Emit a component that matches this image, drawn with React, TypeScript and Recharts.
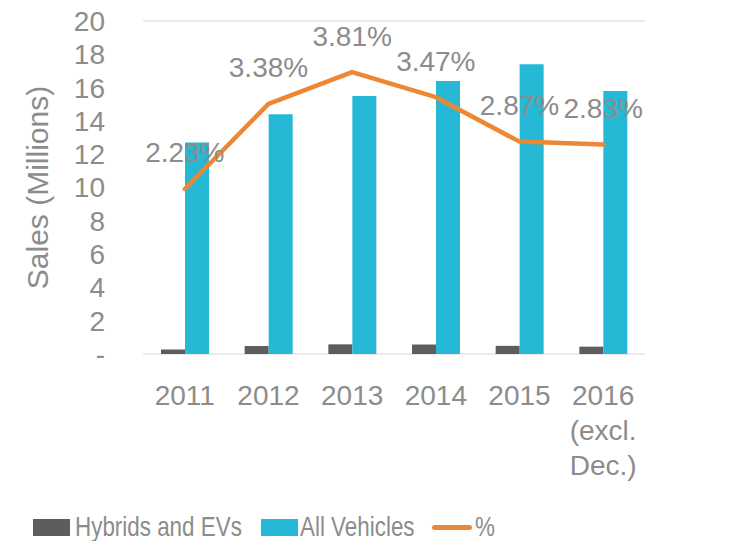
import {
  Bar,
  CartesianGrid,
  ComposedChart,
  LabelList,
  Legend,
  Line,
  XAxis,
  YAxis
} from "recharts";

const years = ["2011", "2012", "2013", "2014", "2015", "2016 (excl. Dec.)"];
const hybridsAndEVs = [0.27, 0.48, 0.58, 0.57, 0.49, 0.44];
const allVehicles = [12.7, 14.4, 15.5, 16.4, 17.4, 15.8];
const sharePct = [2.23, 3.38, 3.81, 3.47, 2.87, 2.83];
const salesTicks = [0, 2, 4, 6, 8, 10, 12, 14, 16, 18, 20];

const TEXT = "#8c8c8c";
const GRAY_BAR = "#5d5d5f";
const CYAN = "#26b9d6";
const ORANGE = "#ee8733";
const FONT = "'Liberation Sans', Arial, sans-serif";

const data = years.map((year, i) => ({
  year,
  hybrids: hybridsAndEVs[i],
  all: allVehicles[i],
  pct: sharePct[i]
}));

function YearTick({ x, y, payload }: any) {
  const lines = String(payload.value).split(" ");
  return (
    <text x={x} y={y + 51} textAnchor="middle" fill={TEXT} fontSize={28} fontFamily={FONT}>
      {lines.map((ln, i) => (
        <tspan key={i} x={x} dy={i === 0 ? 0 : 35}>
          {ln}
        </tspan>
      ))}
    </text>
  );
}

function PctLabel({ x, y, value }: any) {
  return (
    <text
      x={x}
      y={y - 36}
      textAnchor="middle"
      dominantBaseline="central"
      fill={TEXT}
      fontSize={28}
      fontFamily={FONT}
    >
      {`${Number(value).toFixed(2)}%`}
    </text>
  );
}

function SalesLabel({ viewBox }: any) {
  const cy = viewBox.y + viewBox.height / 2;
  return (
    <text
      x={37}
      y={cy}
      transform={`rotate(-90 37 ${cy})`}
      textAnchor="middle"
      dominantBaseline="central"
      fill={TEXT}
      fontSize={30}
      fontFamily={FONT}
    >
      Sales (Millions)
    </text>
  );
}

// legend text in the original is horizontally squeezed
function LegendBox() {
  const txt: any = {
    fontFamily: FONT,
    fontSize: 28,
    color: TEXT,
    lineHeight: "28px",
    whiteSpace: "nowrap",
    transform: "scaleX(0.8)",
    transformOrigin: "0 0"
  };
  return (
    <div style={{ position: "relative", height: 40, width: 736 }}>
      <div style={{ position: "absolute", left: 33, top: 18, width: 37, height: 17, background: GRAY_BAR }} />
      <div style={{ ...txt, position: "absolute", left: 75, top: 12 }}>Hybrids and EVs</div>
      <div style={{ position: "absolute", left: 261, top: 18, width: 37, height: 17, background: CYAN }} />
      <div style={{ ...txt, position: "absolute", left: 300, top: 12 }}>All Vehicles</div>
      <div
        style={{ position: "absolute", left: 432, top: 24, width: 40, height: 5, borderRadius: 3, background: ORANGE }}
      />
      <div style={{ ...txt, position: "absolute", left: 475, top: 12 }}>%</div>
    </div>
  );
}

export default function App() {
  return (
    <div style={{ position: "absolute", left: 0, top: 0, background: "#fff" }}>
      <ComposedChart
        width={736}
        height={541}
        data={data}
        barGap={0}
        margin={{ top: 21, right: 91, bottom: 0, left: 0 }}
      >
        <CartesianGrid vertical={false} stroke="#e3e3e3" strokeWidth={1.5} />
        <XAxis
          dataKey="year"
          axisLine={false}
          tickLine={false}
          tickSize={0}
          tickMargin={0}
          height={147}
          interval={0}
          tick={<YearTick />}
        />
        <YAxis
          yAxisId="sales"
          domain={[0, 20]}
          ticks={salesTicks}
          interval={0}
          width={143}
          axisLine={false}
          tickLine={false}
          tickSize={0}
          tickMargin={38}
          tickFormatter={(v) => (v === 0 ? "-" : String(v))}
          tick={{ fill: TEXT, fontSize: 28, fontFamily: FONT }}
          label={<SalesLabel />}
        />
        <YAxis yAxisId="pct" orientation="right" domain={[0, 4.5]} hide />
        <Legend verticalAlign="bottom" content={<LegendBox />} wrapperStyle={{ left: 0, width: 736, height: 40 }} />
        <Bar
          yAxisId="sales"
          dataKey="hybrids"
          name="Hybrids and EVs"
          fill={GRAY_BAR}
          barSize={24}
          isAnimationActive={false}
        />
        <Bar
          yAxisId="sales"
          dataKey="all"
          name="All Vehicles"
          fill={CYAN}
          barSize={24}
          isAnimationActive={false}
        />
        <Line
          yAxisId="pct"
          type="linear"
          dataKey="pct"
          name="%"
          stroke={ORANGE}
          strokeWidth={4.5}
          strokeLinecap="round"
          strokeLinejoin="round"
          dot={false}
          activeDot={false}
          isAnimationActive={false}
        >
          <LabelList dataKey="pct" content={<PctLabel />} />
        </Line>
      </ComposedChart>
    </div>
  );
}
